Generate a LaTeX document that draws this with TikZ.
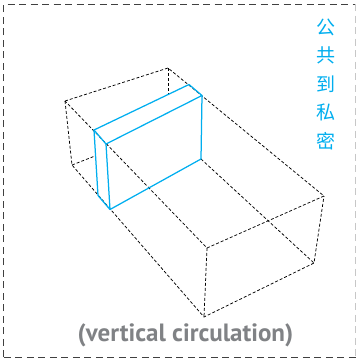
\documentclass[tikz,border=0pt]{standalone}
\usepackage{fontspec}
\setsansfont{PT Sans}
\newfontfamily\cjk{Noto Sans CJK SC}
\definecolor{wallblue}{RGB}{0,174,239}
\definecolor{labelgray}{RGB}{128,130,133}
\tikzset{
  hidden/.style={dash pattern=on 3pt off 2pt,line width=0.75pt,black},
  wall/.style={color=wallblue,line width=1.25pt,line join=round},
  frameline/.style={dash pattern=on 7pt off 4.5pt,line width=1pt}
}

\begin{document}
\begin{tikzpicture}[x=1pt,y=-1pt]
  \useasboundingbox (0,0) rectangle (357,360);
  % outer frame
  \draw[frameline,color=black!75] (4,357) -- (4,4) -- (356,4);
  \draw[frameline,color=black!75] (4,357) -- (356,357);
  \draw[frameline,color=black!22] (356,4) -- (356,357);

  % box corners
  \coordinate (topleft) at (65,101);
  \coordinate (topback) at (168,68);
  \coordinate (topright) at (324,196);
  \coordinate (topfront) at (207,248);
  \coordinate (lowleft) at (72,165);
  \coordinate (lowright) at (314,263);
  \coordinate (lowfront) at (204,317);
  \coordinate (backstop) at (168,94);
  \coordinate (leftstop) at (95,156);

  % room
  \coordinate (wallA) at (94,130);
  \coordinate (wallB) at (189,84.5);
  \coordinate (wallC) at (202,95.5);
  \coordinate (wallD) at (106,144);
  \coordinate (wallE) at (98,195.5);
  \coordinate (wallF) at (110,209.5);
  \coordinate (wallG) at (201,159);

  % dashed box
  \draw[hidden] (topleft) -- (topback) -- (topright) -- (topfront) -- (topleft);
  \draw[hidden] (topleft) -- (lowleft) -- (lowfront) -- (lowright) -- (topright);
  \draw[hidden] (topfront) -- (lowfront);
  \draw[hidden] (topback) -- (backstop);
  \draw[hidden] (lowleft) -- (leftstop);
  \draw[hidden] (wallG) -- (lowright);

  % blue room on top
  \draw[wall] (wallA) -- (wallB) -- (wallC) -- (wallD) -- cycle;
  \draw[wall] (wallA) -- (wallE) -- (wallF) -- (wallD);
  \draw[wall] (wallF) -- (wallG) -- (wallC);

  % labels
  \node[color=wallblue,font=\cjk\fontsize{19}{28.4}\selectfont,align=center,anchor=north] (vlabel) at (326,15.5) {公\\共\\到\\私\\密};
  \node[color=labelgray,font=\sffamily\bfseries\fontsize{25}{28}\selectfont] (caption) at (185.5,335) {(vertical circulation)};
\end{tikzpicture}
\end{document}
